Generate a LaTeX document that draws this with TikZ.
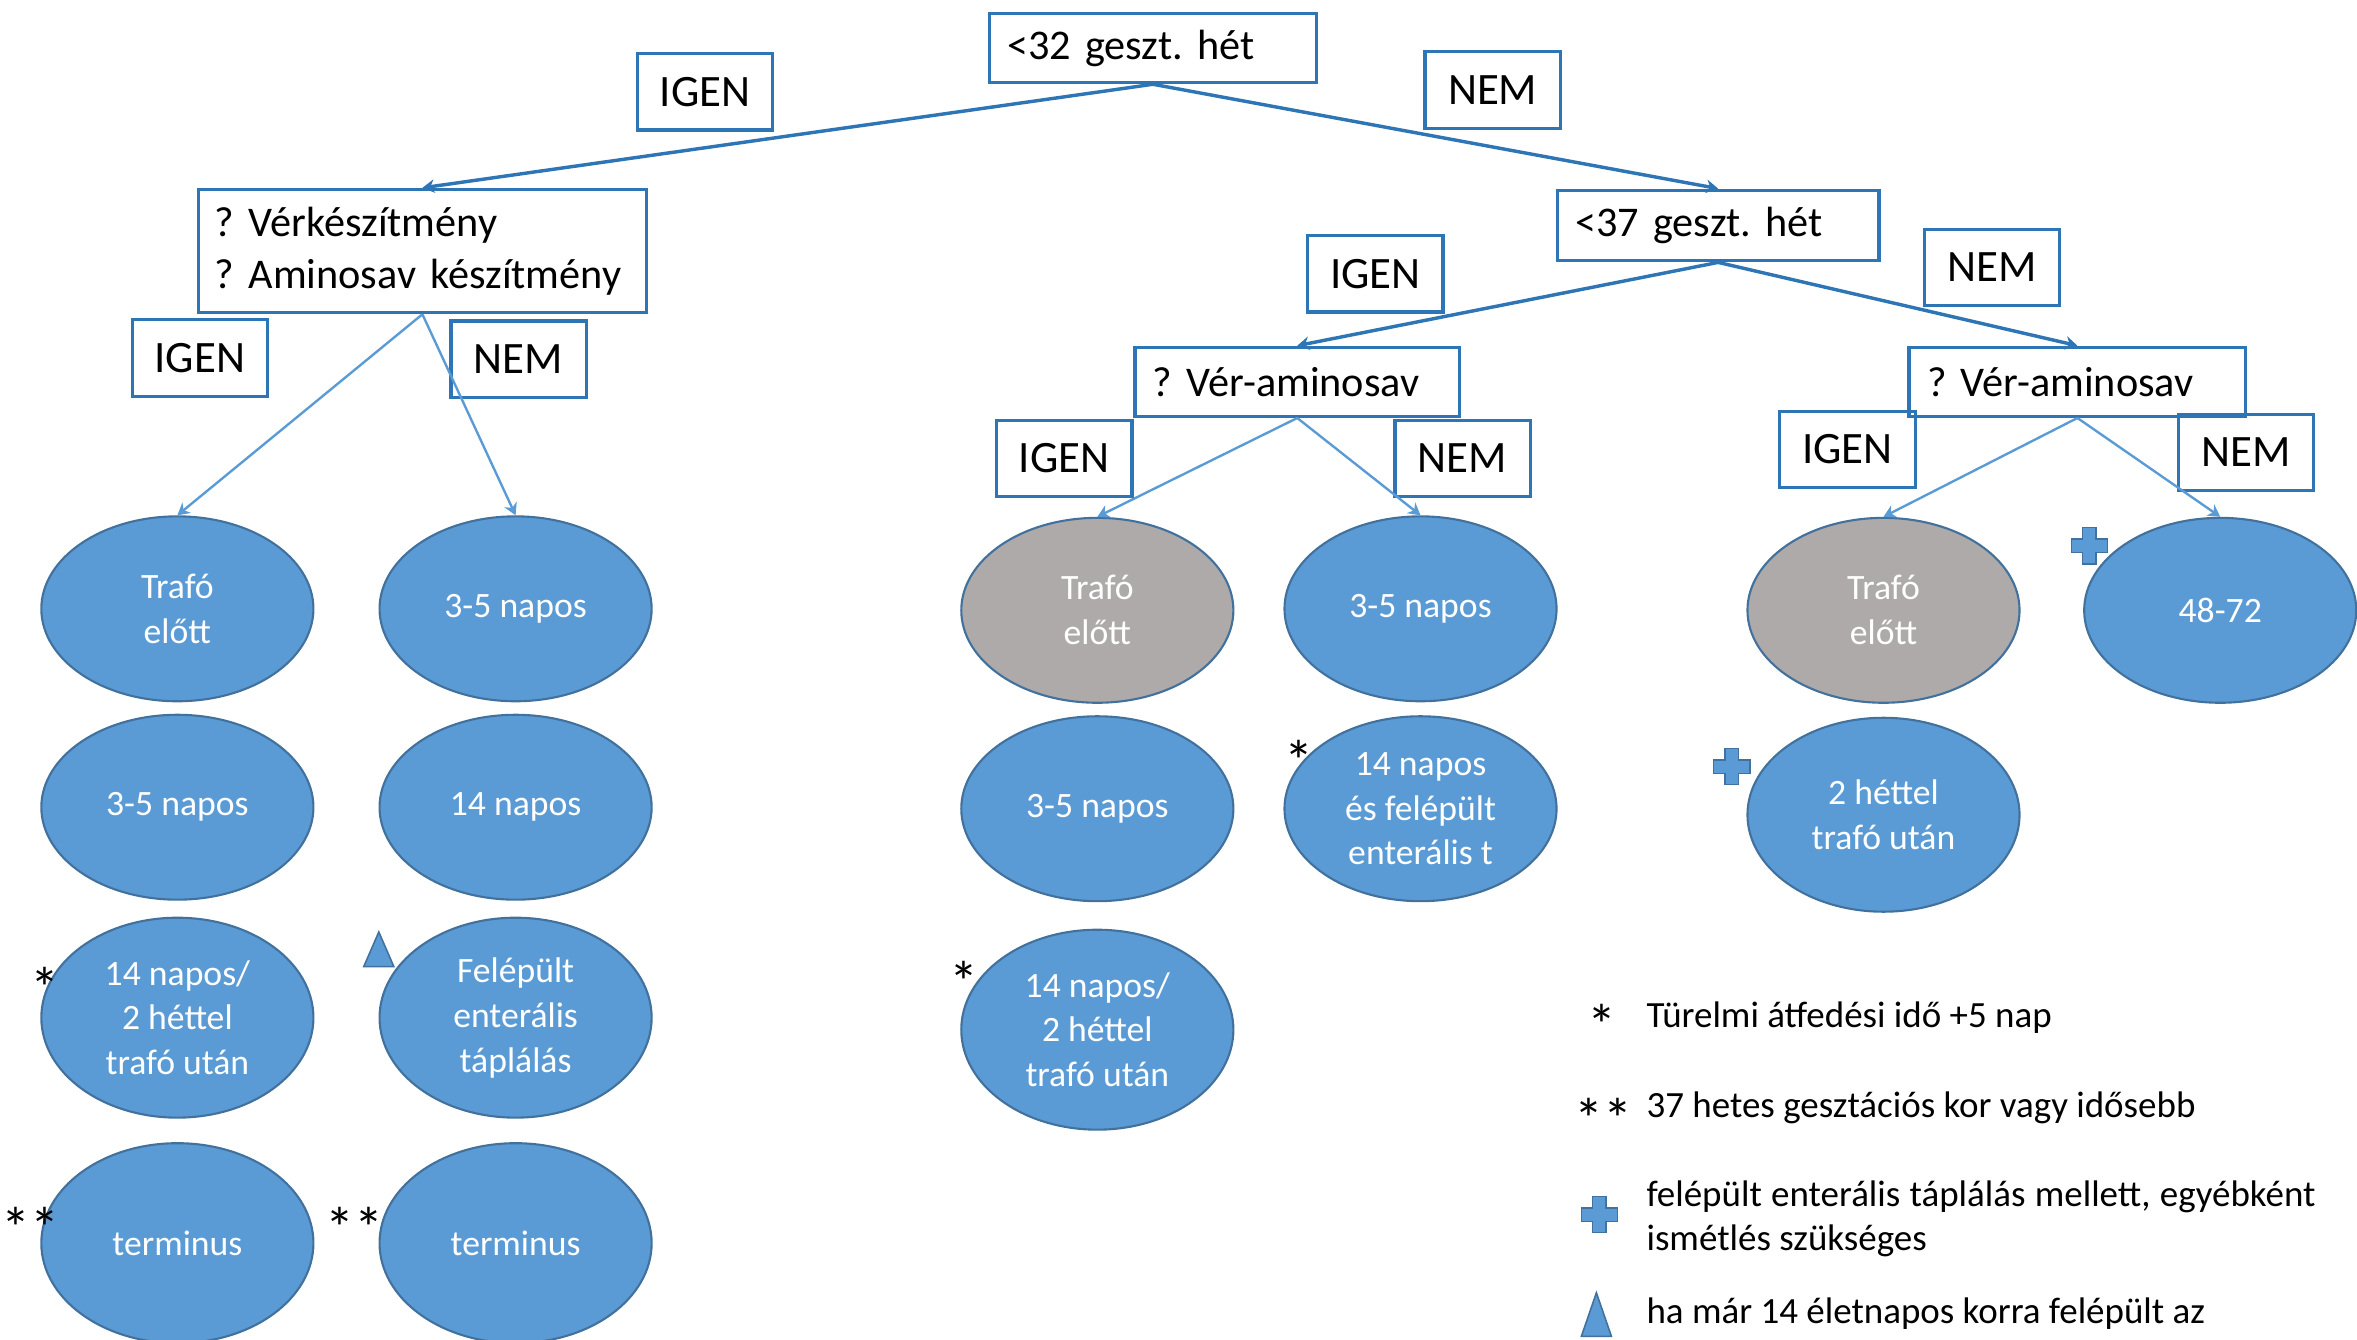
\documentclass[tikz,border=0pt]{standalone}
\usepackage{fontspec}
\setmainfont{Carlito}
\usetikzlibrary{shapes.geometric,arrows.meta}
\definecolor{boxblue}{HTML}{2E75B6}
\definecolor{leafblue}{HTML}{5B9BD5}
\definecolor{leafedge}{HTML}{41719C}
\definecolor{leafgrey}{HTML}{AEAAAA}
\tikzstyle{qbox}=[draw=boxblue, line width=1.2pt, inner xsep=2.4mm, inner ysep=0pt, align=left, font=\frenchspacing\fontsize{16}{19.5}\selectfont]
\tikzstyle{answer}=[draw=boxblue, line width=1.2pt, minimum width=18mm, minimum height=10.2mm, inner sep=0pt, font=\fontsize{17}{20}\selectfont]
\tikzstyle{leaf}=[ellipse, fill=leafblue, draw=leafedge, line width=0.8pt, minimum width=36.2mm, minimum height=24.6mm, inner sep=0pt, align=center, text=white, font=\fontsize{13.5}{17}\selectfont]
\tikzstyle{tall}=[minimum height=26.6mm]
\tikzstyle{greyleaf}=[leaf, fill=leafgrey]
\tikzstyle{branch}=[-{Stealth[length=1.6mm,width=1.8mm]}, draw=boxblue, line width=1.3pt]
\tikzstyle{subbranch}=[branch, draw=leafblue, line width=0.9pt]
\tikzstyle{tri}=[fill=leafblue, draw=leafedge, line width=0.6pt]
\tikzstyle{star}=[inner sep=0pt, font=\fontsize{22}{24}\selectfont]
\tikzstyle{note}=[anchor=west, inner sep=0pt, font=\frenchspacing\fontsize{14}{16.5}\selectfont]
\newcommand{\plusjel}[1]{\draw[tri, shift={#1}] (-4.5,-12) -- (4.5,-12) -- (4.5,-4.5) -- (12,-4.5) -- (12,4.5) -- (4.5,4.5) -- (4.5,12) -- (-4.5,12) -- (-4.5,4.5) -- (-12,4.5) -- (-12,-4.5) -- (-4.5,-4.5) -- cycle;}

\begin{document}
\frenchspacing
\begin{tikzpicture}[x=0.2mm, y=-0.2mm]
				\useasboundingbox (0,0) rectangle (1568,891);

				\node[qbox, text width=38.8mm, minimum height=9.2mm] (q0) at (767,32) {<32 geszt. hét};
				\node[qbox, inner xsep=2.2mm, text width=55.2mm, minimum height=16.4mm] (q1) at (281,167) {? Vérkészítmény\\? Aminosav készítmény};
				\node[qbox, text width=38mm, minimum height=9.4mm] (q2) at (1143,150) {<37 geszt. hét};
				\node[qbox, text width=38.4mm, minimum height=9.2mm] (q3) at (863,254) {? Vér-aminosav};
				\node[qbox, text width=40mm, minimum height=9.2mm] (q4) at (1382,254) {? Vér-aminosav};

				\node[answer] (igen0) at (469,61) {IGEN};
				\node[answer] (nem0) at (993,60) {NEM};
				\node[answer] (igen1) at (133,238) {IGEN};
				\node[answer] (nem1) at (345,239) {NEM};
				\node[answer] (igen2) at (915,182) {IGEN};
				\node[answer] (nem2) at (1325,178) {NEM};
				\node[answer] (igen3) at (708,305) {IGEN};
				\node[answer] (nem3) at (973,305) {NEM};
				\node[answer] (igen4) at (1229,299) {IGEN};
				\node[answer] (nem4) at (1494,301) {NEM};

				\node[leaf] (a1) at (118,405) {Trafó\\előtt};
				\node[leaf] (a2) at (118,537) {3-5 napos};
				\node[leaf, tall] (a3) at (118,677) {14 napos/\\2 héttel\\trafó után};
				\node[leaf, tall] (a4) at (118,827) {terminus};

				\node[leaf] (b1) at (343,405) {3-5 napos};
				\node[leaf] (b2) at (343,537) {14 napos};
				\node[leaf, tall] (b3) at (343,677) {Felépült\\enterális\\táplálás};
				\node[leaf, tall] (b4) at (343,827) {terminus};

				\node[greyleaf] (c1) at (730,406) {Trafó\\előtt};
				\node[leaf] (c2) at (730,538) {3-5 napos};
				\node[leaf, tall] (c3) at (730,685) {14 napos/\\2 héttel\\trafó után};

				\node[leaf] (d1) at (945,405) {3-5 napos};
				\node[leaf] (d2) at (945,538) {14 napos\\és felépült\\enterális t};

				\node[greyleaf] (e1) at (1253,406) {Trafó\\előtt};
				\node[leaf, minimum height=25.8mm] (e2) at (1253,542) {2 héttel\\trafó után};

				\node[leaf] (f1) at (1477,406) {48-72};

				\draw[branch] (q0.south) -- (q1.north);
				\draw[branch] (q0.south) -- (q2.north);
				\draw[branch] (q2.south) -- (q3.north);
				\draw[branch] (q2.south) -- (q4.north);
				\draw[subbranch] (q1.south) -- (a1.north);
				\draw[subbranch] (q1.south) -- (b1.north);
				\draw[subbranch] (q3.south) -- (c1.north);
				\draw[subbranch] (q3.south) -- (d1.north);
				\draw[subbranch] (q4.south) -- (e1.north);
				\draw[subbranch] (q4.south) -- (f1.north);

				\node[star] (s1) at (30,657) {*};
				\node[star] (s2) at (20,817) {**};
				\node[star] (s3) at (236,817) {**};
				\node[star] (s4) at (641,653) {*};
				\node[star] (s5) at (864,506) {*};
				\draw[tri] (242,643) -- (262,643) -- (252,620) -- cycle;
				\plusjel{(1390,363)}
				\plusjel{(1152,510)}

				\node[star] (k1) at (1066,682) {*};
				\node[star] (k2) at (1067,744) {**};
				\node[note] (n1) at (1095,677) {Türelmi átfedési idő +5 nap};
				\node[note] (n2) at (1095,737) {37 hetes gesztációs kor vagy idősebb};
				\plusjel{(1064,808)}
				\node[note, text width=89mm, align=justify] (n3) at (1095,811) {felépült enterális táplálás mellett, egyébként ismétlés szükséges};
				\draw[tri] (1052,889) -- (1072,889) -- (1062,860) -- cycle;
				\node[note] (n4) at (1095,874) {ha már 14 életnapos korra felépült az};
			\end{tikzpicture}
\end{document}
